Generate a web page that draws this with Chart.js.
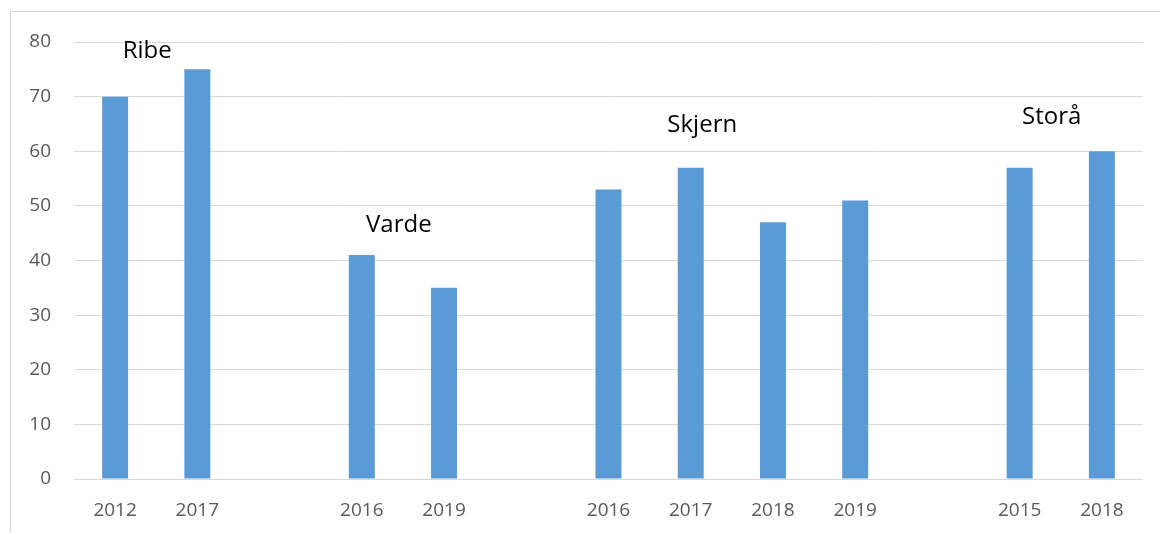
<!DOCTYPE html>
<html lang="da">
<head>
  <meta charset="UTF-8">
  <title>Målinger</title>
  <script src="https://cdn.jsdelivr.net/npm/chart.js@4.4.0/dist/chart.umd.min.js"></script>
  <style>
    html, body { margin: 0; padding: 0; background: #fff; overflow: hidden; }
    #frame { position: absolute; left: 10px; top: 11px; width: 1300px; height: 700px; border: 1px solid #d9d9d9; }
    #wrap { position: absolute; left: 0; top: 0; width: 1160px; height: 533px; }
  </style>
</head>
<body>
  <div id="frame"></div>
  <div id="wrap"><canvas id="chart"></canvas></div>
  <script>
    // year labels, blanks separate the towns
    const years = ['2012', '2017', '', '2016', '2019', '', '2016', '2017', '2018', '2019', '', '2015', '2018'];
    const values = [70, 75, null, 41, 35, null, 53, 57, 47, 51, null, 57, 60];
    const yTicks = [0, 10, 20, 30, 40, 50, 60, 70, 80];

    // town names, placed at (category index, value)
    const towns = ['Ribe', 'Varde', 'Skjern', 'Storå'];
    const townX = [0.39, 3.45, 7.14, 11.39];
    const townY = [78.4, 46.4, 64.8, 66.3];

    const townLabels = {
      id: 'townLabels',
      afterDatasetsDraw(chart) {
        const ctx = chart.ctx;
        const xs = chart.scales.x, ys = chart.scales.y;
        ctx.save();
        ctx.font = '24px "Open Sans"';
        ctx.fillStyle = '#000';
        ctx.textAlign = 'center';
        ctx.textBaseline = 'middle';
        towns.forEach((t, i) => {
          ctx.fillText(t, xs.getPixelForValue(townX[i]), ys.getPixelForValue(townY[i]));
        });
        ctx.restore();
      }
    };

    new Chart(document.getElementById('chart'), {
      type: 'bar',
      data: {
        labels: years,
        datasets: [{
          data: values,
          backgroundColor: '#5b9bd5',
          borderWidth: 0,
          barPercentage: 1,
          categoryPercentage: 0.316
        }]
      },
      options: {
        responsive: true,
        maintainAspectRatio: false,
        animation: false,
        layout: { padding: { top: 42, right: 17, bottom: 0, left: 0 } },
        plugins: {
          legend: { display: false },
          tooltip: { enabled: false }
        },
        scales: {
          x: {
            afterFit(scale) { scale.height = 54; },
            grid: { display: false },
            border: { display: false },
            ticks: {
              color: '#595959',
              font: { family: 'Open Sans', size: 19 },
              padding: 12,
              maxRotation: 0,
              autoSkip: false
            }
          },
          y: {
            min: 0,
            max: 80,
            afterBuildTicks(scale) { scale.ticks = yTicks.map(v => ({ value: v })); },
            afterFit(scale) { scale.width = 74; },
            grid: { color: '#d9d9d9', lineWidth: 1, drawTicks: false },
            border: { display: false },
            ticks: {
              color: '#595959',
              font: { family: 'Open Sans', size: 19 },
              padding: 23
            }
          }
        }
      },
      plugins: [townLabels]
    });
  </script>
</body>
</html>
